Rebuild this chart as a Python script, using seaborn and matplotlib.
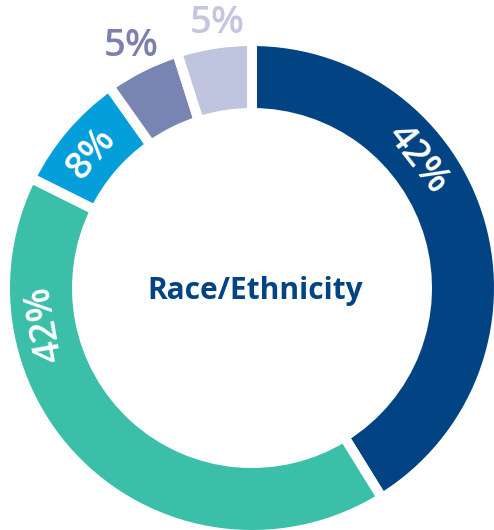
import numpy as np
import seaborn as sns
import matplotlib.pyplot as plt

# race / ethnicity shares (clockwise from 12 o'clock)
groups = ["Group A", "Group B", "Group C", "Group D", "Group E"]
shares = [42, 42, 8, 5, 5]
labels = ["42%", "42%", "8%", "5%", "5%"]
colors = ["#024383", "#3cbfa9", "#049edb", "#7884b2", "#bfc5df"]
label_colors = ["white", "white", "white", "#7d80ad", "#c4c6de"]

sns.set_theme(style="white")
plt.rcParams["font.family"] = ["Open Sans", "DejaVu Sans"]

fig = plt.figure(figsize=(4.94, 5.30), dpi=100)
ax = fig.add_axes([0, 0, 1, 1])

gap = 10  # px, white separator
R_out, R_in = 242, 180
ax.pie(shares, colors=sns.color_palette(colors), startangle=90, counterclock=False,
       radius=R_out + gap / 2,
       wedgeprops=dict(width=(R_out + gap / 2) - (R_in - gap / 2),
                       edgecolor="white", linewidth=gap * 0.72))

# label positions (polar angle in degrees, radius in px)
label_ang = [38, 190, 140, 116.5, 97.5]
label_rad = [210, 210, 210, 270, 267]
for lab, c, a, r in zip(labels, label_colors, label_ang, label_rad):
    t = np.deg2rad(a)
    rot = a - 90 if r < R_out else 0
    ax.text(r * np.cos(t), r * np.sin(t), lab, color=c, fontsize=27.5,
            fontweight="semibold", rotation=rot, rotation_mode="anchor",
            ha="center", va="center")

ax.text(3, -11, "Race/Ethnicity", color="#024383", fontsize=21.5,
        fontweight="bold", ha="center", va="baseline")

ax.set_xlim(-252, 242)
ax.set_ylim(-242, 288)
ax.set_aspect("equal")
ax.axis("off")
fig.savefig("out.png", dpi=100)
